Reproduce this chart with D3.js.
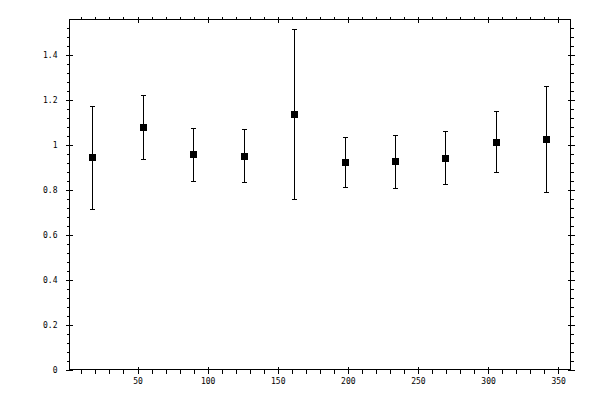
<!DOCTYPE html>
<html>
<head>
<meta charset="utf-8">
<script src="https://cdn.jsdelivr.net/npm/d3@7"></script>
<style>
  body { margin: 0; background: #fff; }
  svg { display: block; }
  .tick text { font-family: "DejaVu Sans Mono", monospace; font-size: 8px; fill: #000; }
  .tick line { stroke: #000; }
</style>
</head>
<body>
<svg id="chart"></svg>
<script>
// data
const xs = [18, 54, 90, 126, 162, 198, 234, 270, 306, 342];
const means = [0.945, 1.079, 0.959, 0.950, 1.137, 0.923, 0.927, 0.941, 1.012, 1.025];
const upper = [1.174, 1.222, 1.073, 1.070, 1.516, 1.034, 1.043, 1.061, 1.150, 1.263];
const lower = [0.715, 0.936, 0.839, 0.835, 0.758, 0.811, 0.807, 0.825, 0.880, 0.790];

const xMajor = [50, 100, 150, 200, 250, 300, 350];
const xMinor = d3.range(10, 360, 10).filter(v => v % 50 !== 0);
const yMajor = [0, 0.2, 0.4, 0.6, 0.8, 1, 1.2, 1.4];
const yLabels = ["0", "0.2", "0.4", "0.6", "0.8", "1", "1.2", "1.4"];
const yMinor = d3.range(0.04, 1.56, 0.04).map(v => +v.toFixed(2)).filter(v => Math.round(v * 100) % 20 !== 0);

const width = 600;
const height = 400;
const pLeft = 69.5, pRight = 570.5, pTop = 19.5, pBottom = 369.5;

const svg = d3.select("#chart")
    .attr("width", width)
    .attr("height", height)
    .attr("shape-rendering", "crispEdges");

const x = d3.scaleLinear().domain([1.5, 358.8]).range([pLeft, pRight]);
const y = d3.scaleLinear().domain([0, 1.56]).range([pBottom, pTop]);

// helper: draw one set of ticks
function ticks(axisFn, scale, values, size, pos, fmt) {
    const ax = axisFn(scale).tickValues(values).tickSize(size).tickSizeOuter(0);
    if (fmt) ax.tickFormat(fmt); else ax.tickFormat("");
    const g = svg.append("g").attr("transform", pos).call(ax);
    g.select(".domain").remove();
    return g;
}

// bottom axis
ticks(d3.axisBottom, x, xMajor, 4, `translate(0,${pBottom})`, d => d).call(a => a.selectAll("text").attr("y", 9));
ticks(d3.axisBottom, x, xMajor, -3, `translate(0,${pBottom})`);
ticks(d3.axisBottom, x, xMinor, 4, `translate(0,${pBottom})`);

// top axis
ticks(d3.axisTop, x, xMajor, 3, `translate(0,${pTop})`);
ticks(d3.axisTop, x, xMajor, -3, `translate(0,${pTop})`);
ticks(d3.axisTop, x, xMinor, 3, `translate(0,${pTop})`);

// left axis
ticks(d3.axisLeft, y, yMajor, 4, `translate(${pLeft},0)`, (d, i) => yLabels[i]).call(a => a.selectAll("text").attr("x", -12));
ticks(d3.axisLeft, y, yMajor, -3, `translate(${pLeft},0)`);
ticks(d3.axisLeft, y, yMinor, 3, `translate(${pLeft},0)`);

// right axis
ticks(d3.axisRight, y, yMajor, 4, `translate(${pRight},0)`);
ticks(d3.axisRight, y, yMajor, -3, `translate(${pRight},0)`);
ticks(d3.axisRight, y, yMinor, 3, `translate(${pRight},0)`);

// frame
svg.append("rect")
    .attr("x", pLeft).attr("y", pTop)
    .attr("width", pRight - pLeft).attr("height", pBottom - pTop)
    .attr("fill", "none").attr("stroke", "#000");

// error bars
const pts = xs.map((v, i) => ({ x: v, m: means[i], hi: upper[i], lo: lower[i] }));
const px = d => Math.floor(x(d.x));
const eb = svg.append("g").attr("stroke", "#000").attr("stroke-width", 1);

eb.selectAll(".bar").data(pts).enter().append("line")
    .attr("x1", d => px(d) + 0.5).attr("x2", d => px(d) + 0.5)
    .attr("y1", d => y(d.hi)).attr("y2", d => y(d.lo));

eb.selectAll(".capHi").data(pts).enter().append("line")
    .attr("x1", d => px(d) - 2).attr("x2", d => px(d) + 3)
    .attr("y1", d => Math.floor(y(d.hi)) + 0.5).attr("y2", d => Math.floor(y(d.hi)) + 0.5);

eb.selectAll(".capLo").data(pts).enter().append("line")
    .attr("x1", d => px(d) - 2).attr("x2", d => px(d) + 3)
    .attr("y1", d => Math.floor(y(d.lo)) + 0.5).attr("y2", d => Math.floor(y(d.lo)) + 0.5);

// square markers
svg.append("g").selectAll("rect").data(pts).enter().append("rect")
    .attr("x", d => px(d) - 3)
    .attr("y", d => Math.floor(y(d.m)) - 3)
    .attr("width", 7).attr("height", 7)
    .attr("fill", "#000");
</script>
</body>
</html>
